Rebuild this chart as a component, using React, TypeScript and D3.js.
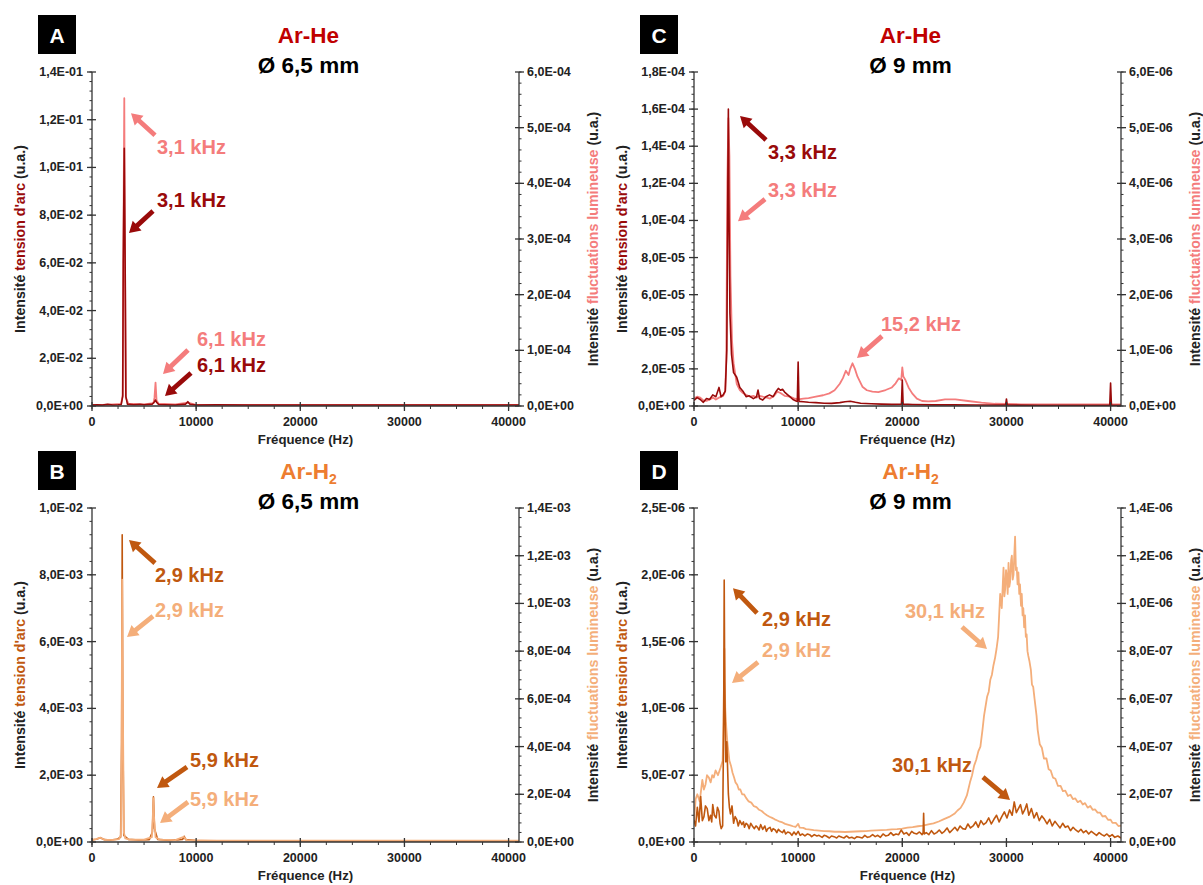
import React from 'react';
import * as d3 from 'd3';

type Pt = [number, number];

// ---------- DATA ----------
const FREQ_MAX = 41000;
const FREQ_TICKS = [0, 10000, 20000, 30000, 40000];

// Panel A : Ar-He, 6,5 mm
const A_ARC: Pt[] = [[0,0.0004],[500,0.0005],[1000,0.0004],[1500,0.0007],[2000,0.0004],[2500,0.0005],[2800,0.0006],[2950,0.004],[3000,0.06],[3100,0.108],[3200,0.05],[3250,0.004],[3400,0.0008],[4000,0.0005],[4600,0.0007],[5000,0.0005],[5800,0.0008],[6000,0.0018],[6100,0.0025],[6200,0.0016],[6400,0.0006],[7000,0.0005],[8000,0.0004],[9000,0.0008],[9200,0.0018],[9400,0.0007],[10000,0.0004],[12000,0.0005],[15000,0.0004],[20000,0.0004],[25000,0.0004],[30000,0.0004],[35000,0.0004],[41000,0.0004]];
const A_LUM: Pt[] = [[0,2e-6],[1000,2e-6],[2000,3e-6],[2800,4e-6],[2950,2e-5],[3050,4e-4],[3100,5.53e-4],[3150,3e-4],[3250,1.5e-5],[3500,4e-6],[5000,3e-6],[5900,5e-6],[6000,1.5e-5],[6100,4.2e-5],[6200,1e-5],[6400,4e-6],[8000,3e-6],[9200,6e-6],[10000,2e-6],[20000,2e-6],[30000,2e-6],[41000,2e-6]];

// Panel B : Ar-H2, 6,5 mm
const B_ARC: Pt[] = [[0,6e-5],[400,8e-5],[800,1.3e-4],[1200,7e-5],[1800,6e-5],[2400,8e-5],[2750,1.5e-4],[2850,3e-3],[2900,9.2e-3],[2950,4e-3],[3050,2e-4],[3500,8e-5],[4500,6e-5],[5500,7e-5],[5800,3e-4],[5900,1.35e-3],[6000,4e-4],[6300,8e-5],[7500,5e-5],[8700,8e-5],[8850,1.7e-4],[9000,7e-5],[10000,4e-5],[15000,3e-5],[20000,3e-5],[30000,3e-5],[41000,3e-5]];
const B_LUM: Pt[] = [[0,1e-5],[400,1.2e-5],[800,1.8e-5],[1200,1e-5],[2000,9e-6],[2600,1.2e-5],[2780,3e-5],[2840,4e-4],[2900,1.1e-3],[2960,6e-4],[3060,4e-5],[3200,1.5e-5],[3600,1e-5],[5000,1e-5],[5750,2e-5],[5850,1.2e-4],[5900,1.84e-4],[5950,1.1e-4],[6100,2e-5],[6500,1e-5],[8000,8e-6],[8800,2.2e-5],[9100,8e-6],[12000,6e-6],[20000,6e-6],[30000,6e-6],[41000,6e-6]];

// Panel C : Ar-He, 9 mm
const C_ARC: Pt[] = [[0,3e-6],[300,4.5e-6],[600,3.5e-6],[900,2e-6],[1200,4e-6],[1500,3.5e-6],[1800,6e-6],[2100,5e-6],[2400,1e-5],[2600,5e-6],[2800,6e-6],[3000,8e-6],[3150,3e-5],[3250,1.2e-4],[3300,1.6e-4],[3350,1.1e-4],[3450,5e-5],[3600,2.8e-5],[3800,1.8e-5],[4100,1.55e-5],[4400,1e-5],[4700,8e-6],[5000,5e-6],[5300,5.5e-6],[5700,4e-6],[6000,5e-6],[6150,8.6e-6],[6300,4e-6],[6600,3.2e-6],[6900,5e-6],[7250,6e-6],[7600,5e-6],[7900,8e-6],[8100,9.5e-6],[8300,8.5e-6],[8500,9e-6],[8700,7.5e-6],[9000,6e-6],[9200,5e-6],[9500,3.5e-6],[9800,2.7e-6],[9920,2.5e-6],[10000,2.37e-5],[10080,2.5e-6],[10500,2.3e-6],[11000,2e-6],[11700,1.8e-6],[12500,1.5e-6],[13200,1.4e-6],[14000,1.8e-6],[14500,2.3e-6],[15000,2.6e-6],[15500,2e-6],[16000,1.5e-6],[17000,1.2e-6],[18000,1e-6],[19000,0.9e-6],[19920,1e-6],[20000,1.4e-5],[20080,1e-6],[21000,0.8e-6],[23000,0.6e-6],[25000,0.6e-6],[27000,0.5e-6],[29920,0.5e-6],[30000,3.8e-6],[30080,0.5e-6],[33000,0.4e-6],[36000,0.4e-6],[39920,0.4e-6],[40000,1.24e-5],[40080,0.4e-6],[41000,0.4e-6]];
const C_LUM: Pt[] = [[0,1.37e-7],[300,1.67e-7],[600,1.5e-7],[900,1e-7],[1200,9.3e-8],[1500,1.17e-7],[1850,1.5e-7],[2100,1.17e-7],[2400,1.5e-7],[2800,1.83e-7],[3000,2.67e-7],[3100,8.3e-7],[3200,4.0e-6],[3300,5.17e-6],[3400,4.5e-6],[3500,2.33e-6],[3650,1.17e-6],[3800,7.7e-7],[4100,4e-7],[4400,2.87e-7],[4700,2.33e-7],[5000,2e-7],[5400,1.67e-7],[5700,1.83e-7],[6000,1.5e-7],[6300,1.83e-7],[6600,1.67e-7],[7000,1.5e-7],[7300,1.33e-7],[7700,1.83e-7],[8000,2.57e-7],[8300,2.33e-7],[8700,1.83e-7],[9200,1.67e-7],[9600,1.37e-7],[10000,1.17e-7],[10500,1.33e-7],[11000,1.43e-7],[11700,1.67e-7],[12400,1.93e-7],[13000,2.27e-7],[13500,2.83e-7],[14000,4e-7],[14300,5e-7],[14580,6.33e-7],[14840,5.57e-7],[15000,6.67e-7],[15220,7.67e-7],[15450,6.67e-7],[15700,5.27e-7],[16170,3.47e-7],[16600,2.83e-7],[17130,2.57e-7],[17700,2.5e-7],[18400,2.87e-7],[19000,3.33e-7],[19360,4.07e-7],[19670,4.97e-7],[19900,4.67e-7],[20000,6.93e-7],[20100,5.33e-7],[20300,4.67e-7],[20600,3.33e-7],[20950,2.27e-7],[21400,1.33e-7],[21900,9e-8],[22500,8.3e-8],[23200,9e-8],[24100,1.2e-7],[25100,1.2e-7],[26300,9e-8],[27600,6e-8],[28900,4e-8],[31400,3e-8],[35000,3e-8],[41000,3e-8]];

// Panel D : Ar-H2, 9 mm
const D_ARC: Pt[] = [[0,16.5e-8],[150,12e-8],[320,26e-8],[480,15e-8],[640,34e-8],[800,16e-8],[955,19e-8],[1100,27e-8],[1270,25e-8],[1430,16e-8],[1590,20e-8],[1700,15e-8],[1800,28e-8],[1950,20e-8],[2130,18e-8],[2250,26e-8],[2390,23e-8],[2500,14e-8],[2610,10e-8],[2750,12e-8],[2850,90e-8],[2900,196e-8],[2950,120e-8],[3050,60e-8],[3150,75e-8],[3300,36e-8],[3400,26e-8],
  [3500,21e-8],[3650,27e-8],[3800,14e-8],[3950,19e-8],[4100,17e-8],[4250,12e-8],[4400,16e-8],[4600,13e-8],[4750,15e-8],[4850,11e-8],[5000,14e-8],[5150,13e-8],[5300,10e-8],[5450,14e-8],[5600,12e-8],[5800,10e-8],[5950,12e-8],[6100,11e-8],[6250,9e-8],[6400,13e-8],[6600,9.5e-8],[6800,12e-8],[6950,8e-8],[7100,10e-8],[7300,11e-8],[7450,8e-8],[7600,10e-8],[7800,9e-8],[7950,7e-8],[8100,9.5e-8],[8300,8e-8],[8500,7e-8],[8650,9e-8],[8800,6e-8],[9000,7.5e-8],[9200,7e-8],[9400,5e-8],[9600,7.5e-8],[9800,5.5e-8],[10000,8e-8],[10200,5e-8],[10400,6e-8],[10650,4.5e-8],[10900,6e-8],[11100,5.5e-8],[11300,4e-8],[11550,5.5e-8],[11800,4.5e-8],[12000,5e-8],[12300,3.5e-8],[12500,5e-8],[12700,4.5e-8],[13000,3e-8],[13200,4.5e-8],[13450,4e-8],[13700,3e-8],[13900,4.5e-8],[14200,3.5e-8],[14400,3e-8],[14650,4.5e-8],[14900,3e-8],[15150,3.5e-8],[15400,2.5e-8],[15650,4e-8],[15900,3.5e-8],[16150,3e-8],[16400,5e-8],[16650,3.5e-8],[16900,4e-8],[17150,5.5e-8],[17400,4e-8],[17650,5e-8],[17900,3.5e-8],[18150,6e-8],[18400,4.5e-8],[18650,5e-8],[18900,7e-8],[19150,5e-8],[19400,6e-8],[19650,5.5e-8],[19900,9e-8],[20150,6e-8],[20400,7e-8],[20650,5e-8],[20900,8e-8],[21150,6.5e-8],[21400,6e-8],[21650,7.5e-8],[21900,5.5e-8],[22000,7e-8],[22050,21.5e-8],[22100,6e-8],[22300,7e-8],[22550,5.5e-8],[22800,8.5e-8],[23050,6e-8],[23300,7e-8],[23550,9e-8],[23800,6.5e-8],[24050,8e-8],[24300,10.5e-8],[24550,7e-8],[24800,9e-8],[25050,11e-8],[25300,8.5e-8],[25550,12e-8],[25800,10e-8],[26050,9.5e-8],[26300,13.5e-8],[26550,10.5e-8],[26800,12e-8],[27050,15e-8],[27300,11e-8],[27550,16e-8],[27800,13e-8],[28050,14.5e-8],[28300,18e-8],[28550,13.5e-8],[28800,17e-8],[29050,20e-8],[29300,15e-8],[29550,19e-8],[29800,22.5e-8],[30050,18e-8],[30300,24e-8],[30550,20e-8],[30750,30e-8],[30950,22e-8],[31150,25e-8],[31350,28e-8],[31550,21e-8],[31750,24e-8],[31950,28.5e-8],[32150,20e-8],[32400,25e-8],[32650,18e-8],[32900,22e-8],[33150,16e-8],[33400,19.5e-8],[33650,17e-8],[33900,13.5e-8],[34150,17e-8],[34400,12e-8],[34650,15.5e-8],[34900,13e-8],[35150,10.5e-8],[35400,14e-8],[35650,11e-8],[35900,12e-8],[36150,8.5e-8],[36400,11e-8],[36650,9e-8],[36900,7.5e-8],[37150,9.5e-8],[37400,7e-8],[37650,8.5e-8],[37900,6e-8],[38150,8e-8],[38400,6.5e-8],[38650,5e-8],[38900,7e-8],[39150,5.5e-8],[39400,4.5e-8],[39650,6e-8],[39900,4e-8],[40150,5.5e-8],[40400,3.5e-8],[40700,4.5e-8],[41000,3e-8]];
const D_LUM: Pt[] = [[0,9e-8],[160,18e-8],[320,20e-8],[550,17e-8],[800,26e-8],[950,22e-8],[1100,24e-8],[1250,28e-8],[1430,27e-8],[1600,25e-8],[1750,28e-8],[1900,27e-8],[2070,30e-8],[2300,28e-8],[2540,31e-8],[2750,34e-8],[2850,56e-8],[2920,81e-8],[3000,56e-8],[3100,48e-8],[3200,42e-8],[3300,38e-8],[3400,34e-8],[3550,32e-8],[3700,29e-8],[3850,27e-8],[3980,25e-8],[4150,24e-8],[4300,22e-8],[4450,22e-8],[4620,20e-8],[4800,20e-8],[5000,18.5e-8],[5250,17e-8],[5500,16.5e-8],[5750,15e-8],[6000,14.6e-8],[6250,13.5e-8],[6500,13e-8],[6750,12e-8],[7000,11.2e-8],[7250,10.6e-8],[7500,10.1e-8],[7750,9.5e-8],[8000,9e-8],[8250,8.5e-8],[8500,8.2e-8],[8750,7.6e-8],[9000,7.3e-8],[9250,7e-8],[9500,6.6e-8],[9750,6.3e-8],[10000,7.6e-8],[10150,6e-8],[10500,5.9e-8],[10750,5.4e-8],[11000,5.3e-8],[11500,5e-8],[12000,4.8e-8],[12500,4.6e-8],[13000,4.5e-8],[13500,4.3e-8],[14000,4.3e-8],[14500,4.2e-8],[15000,4.3e-8],[15500,4.4e-8],[16000,4.5e-8],[16500,4.6e-8],[17000,4.8e-8],[17500,4.9e-8],[18000,5e-8],[18500,5.1e-8],[19000,5.3e-8],[19500,5.4e-8],[20000,5.6e-8],[20500,6e-8],[21000,6.2e-8],[21500,6.6e-8],[22000,6.9e-8],[22500,7.4e-8],[23000,7.8e-8],[23500,8.6e-8],[24000,9.6e-8],[24500,10.5e-8],[25000,11.8e-8],[25300,13.2e-8],[25600,14.3e-8],[25900,16.5e-8],[26200,19.5e-8],[26500,25e-8],[26700,28e-8],[26900,32e-8],[27100,34.5e-8],[27300,38e-8],[27500,40e-8],[27700,47e-8],[27850,53e-8],[28000,57e-8],[28150,61e-8],[28300,63e-8],[28450,68e-8],[28600,70e-8],[28750,74e-8],[28900,77e-8],[29050,81e-8],[29200,86e-8],[29300,95e-8],[29400,104e-8],[29550,98e-8],[29650,108e-8],[29720,115e-8],[29800,103e-8],[29880,106e-8],[29960,114e-8],[30040,111e-8],[30120,104e-8],[30200,117e-8],[30280,107e-8],[30350,109e-8],[30450,118e-8],[30520,120e-8],[30600,110e-8],[30680,112e-8],[30760,121e-8],[30830,128e-8],[30910,114e-8],[30990,115e-8],[31070,108e-8],[31150,113e-8],[31230,104e-8],[31300,108e-8],[31400,99e-8],[31470,104e-8],[31550,95e-8],[31620,98e-8],[31700,90e-8],[31780,95e-8],[31860,86e-8],[31940,87e-8],[32020,80e-8],[32100,78e-8],[32200,76e-8],[32350,72e-8],[32450,66e-8],[32570,65e-8],[32700,60e-8],[32890,53e-8],[33000,47e-8],[33200,41e-8],[33400,39.5e-8],[33600,35e-8],[33840,35e-8],[34050,30.5e-8],[34250,30e-8],[34470,27e-8],[34700,26.5e-8],[34950,23.5e-8],[35200,23.5e-8],[35420,21.3e-8],[35650,21.5e-8],[35900,19.3e-8],[36150,19.8e-8],[36380,18e-8],[36600,18.3e-8],[36850,16.7e-8],[37100,17.3e-8],[37330,15.7e-8],[37550,16.3e-8],[37800,14.4e-8],[38050,15.1e-8],[38280,13.5e-8],[38500,13.7e-8],[38750,12.3e-8],[39000,12.3e-8],[39230,10.7e-8],[39500,10.9e-8],[39750,9.3e-8],[40000,9.4e-8],[40180,8e-8],[40500,8e-8],[40750,6.7e-8],[41000,6.9e-8]];

// ---------- STYLE / LAYOUT ----------
const HE = { title: '#C00000', dark: '#990A0A', light: '#F47C7C' };
const H2 = { title: '#ED7D31', dark: '#C0580F', light: '#F4AE7A' };
const FONT = '"Liberation Sans", Arial, sans-serif';
const AXIS = '#333333';
const PLOT = { left: 92, right: 519, top: 72, bottom: 406 };

interface Ann { text: string; dark: boolean; hz: number; v: number; axis: 'L' | 'R'; tail: [number, number]; label: [number, number]; }
interface Panel {
  letter: string; ox: number; oy: number; gas: 'He' | 'H2'; diam: string;
  leftMax: number; leftStep: number; rightMax: number; rightStep: number;
  arc: Pt[]; lum: Pt[]; lumOnTop: boolean; anns: Ann[];
}

const PANELS: Panel[] = [
  { letter: 'A', ox: 0, oy: 0, gas: 'He', diam: 'Ø 6,5 mm', leftMax: 0.14, leftStep: 0.02, rightMax: 6e-4, rightStep: 1e-4, arc: A_ARC, lum: A_LUM, lumOnTop: false,
    anns: [
      { text: '3,1 kHz', dark: false, hz: 3745, v: 5.26e-4, axis: 'R', tail: [24, 22], label: [26, 41] },
      { text: '3,1 kHz', dark: true, hz: 3553, v: 0.0725, axis: 'L', tail: [24, -22], label: [28, -26] },
      { text: '6,1 kHz', dark: false, hz: 6817, v: 5.75e-5, axis: 'R', tail: [25, -24], label: [34, -28] },
      { text: '6,1 kHz', dark: true, hz: 7009, v: 0.0042, axis: 'L', tail: [26, -23], label: [32, -24] },
    ] },
  { letter: 'C', ox: 602, oy: 0, gas: 'He', diam: 'Ø 9 mm', leftMax: 1.8e-4, leftStep: 2e-5, rightMax: 6e-6, rightStep: 1e-6, arc: C_ARC, lum: C_LUM, lumOnTop: false,
    anns: [
      { text: '3,3 kHz', dark: true, hz: 4417, v: 1.563e-4, axis: 'L', tail: [26, 24], label: [28, 43] },
      { text: '3,3 kHz', dark: false, hz: 4225, v: 3.32e-6, axis: 'R', tail: [27, -22], label: [30, -24] },
      { text: '15,2 kHz', dark: false, hz: 15650, v: 8.6e-7, axis: 'R', tail: [25, -22], label: [24, -27] },
    ] },
  { letter: 'B', ox: 0, oy: 436, gas: 'H2', diam: 'Ø 6,5 mm', leftMax: 1e-2, leftStep: 2e-3, rightMax: 1.4e-3, rightStep: 2e-4, arc: B_ARC, lum: B_LUM, lumOnTop: true,
    anns: [
      { text: '2,9 kHz', dark: true, hz: 3553, v: 9.04e-3, axis: 'L', tail: [26, 23], label: [26, 42] },
      { text: '2,9 kHz', dark: false, hz: 3361, v: 8.59e-4, axis: 'R', tail: [26, -21], label: [28, -20] },
      { text: '5,9 kHz', dark: true, hz: 6241, v: 1.62e-3, axis: 'L', tail: [30, -21], label: [33, -21] },
      { text: '5,9 kHz', dark: false, hz: 6529, v: 7.96e-5, axis: 'R', tail: [28, -21], label: [30, -17] },
    ] },
  { letter: 'D', ox: 602, oy: 436, gas: 'H2', diam: 'Ø 9 mm', leftMax: 2.5e-6, leftStep: 5e-7, rightMax: 1.4e-6, rightStep: 2e-7, arc: D_ARC, lum: D_LUM, lumOnTop: false,
    anns: [
      { text: '2,9 kHz', dark: true, hz: 3745, v: 1.9e-6, axis: 'L', tail: [24, 25], label: [29, 38] },
      { text: '2,9 kHz', dark: false, hz: 3649, v: 6.66e-7, axis: 'R', tail: [26, -21], label: [30, -26] },
      { text: '30,1 kHz', dark: false, hz: 28133, v: 8.09e-7, axis: 'R', tail: [-25, -22], label: [-82, -31] },
      { text: '30,1 kHz', dark: true, hz: 30341, v: 3.14e-7, axis: 'L', tail: [-27, -23], label: [-118, -28] },
    ] },
];

function fmtSci(v: number): string {
  const s = v.toExponential(1);
  const [m, e] = s.split('e');
  const ei = parseInt(e, 10);
  return m.replace('.', ',') + 'E' + (ei < 0 ? '-' : '+') + String(Math.abs(ei)).padStart(2, '0');
}

function arrowPath(x1: number, y1: number, x2: number, y2: number): string {
  const dx = x2 - x1, dy = y2 - y1;
  const len = Math.hypot(dx, dy);
  const ux = dx / len, uy = dy / len;
  const nx = -uy, ny = ux;
  const w = 2.4, hw = 6.5, hl = 11;
  const bx = x2 - ux * hl, by = y2 - uy * hl;
  const p = [
    [x1 + nx * w, y1 + ny * w], [bx + nx * w, by + ny * w], [bx + nx * hw, by + ny * hw], [x2, y2],
    [bx - nx * hw, by - ny * hw], [bx - nx * w, by - ny * w], [x1 - nx * w, y1 - ny * w],
  ];
  return 'M' + p.map(q => q[0].toFixed(1) + ',' + q[1].toFixed(1)).join('L') + 'Z';
}

function ticksOf(max: number, step: number): number[] {
  const n = Math.round(max / step);
  return d3.range(0, n + 1).map(i => i * step);
}

function PanelView({ p }: { p: Panel }) {
  const col = p.gas === 'He' ? HE : H2;
  const L = PLOT.left + p.ox, R = PLOT.right + p.ox, T = PLOT.top + p.oy, B = PLOT.bottom + p.oy;
  const x = d3.scaleLinear().domain([0, FREQ_MAX]).range([L, R]);
  const yL = d3.scaleLinear().domain([0, p.leftMax]).range([B, T]);
  const yR = d3.scaleLinear().domain([0, p.rightMax]).range([B, T]);
  const lineL = d3.line<Pt>().x(d => x(d[0])).y(d => yL(d[1]));
  const lineR = d3.line<Pt>().x(d => x(d[0])).y(d => yR(d[1]));
  const leftTicks = ticksOf(p.leftMax, p.leftStep);
  const rightTicks = ticksOf(p.rightMax, p.rightStep);
  const leftMinor = ticksOf(p.leftMax, p.leftStep / 5);
  const rightMinor = ticksOf(p.rightMax, p.rightStep / 5);
  const xMinor = d3.range(0, FREQ_MAX + 1, 2500);
  const clipId = 'clip' + p.letter;
  const cx = (L + R) / 2 - 3;
  const cy = (T + B) / 2;

  const arcPath = <path d={lineL(p.arc) || ''} fill="none" stroke={col.dark} strokeWidth={1.6} strokeLinejoin="round" />;
  const lumPath = <path d={lineR(p.lum) || ''} fill="none" stroke={col.light} strokeWidth={1.8} strokeLinejoin="round" />;

  return (
    <g fontFamily={FONT} fontWeight="bold">
      <rect x={38 + p.ox} y={15 + p.oy} width={38} height={39} fill="#000" />
      <text x={57 + p.ox} y={43 + p.oy} textAnchor="middle" fontSize={21} fill="#fff">{p.letter}</text>
      <text x={cx + 6} y={43 + p.oy} textAnchor="middle" fontSize={22.5} fill={col.title}>
        {p.gas === 'He' ? 'Ar-He' : <>Ar-H<tspan fontSize={14} dy={5}>2</tspan></>}
      </text>
      <text x={cx + 6} y={73 + p.oy} textAnchor="middle" fontSize={22.5} fill="#000">{p.diam}</text>

      <defs>
        <clipPath id={clipId}><rect x={L} y={T - 2} width={R - L} height={B - T + 3} /></clipPath>
      </defs>
      <g clipPath={`url(#${clipId})`}>
        {p.lumOnTop ? <>{arcPath}{lumPath}</> : <>{lumPath}{arcPath}</>}
      </g>

      <g stroke={AXIS} strokeWidth={1.3} fill="none">
        <line x1={L} y1={T} x2={L} y2={B} />
        <line x1={R} y1={T} x2={R} y2={B} />
        <line x1={L} y1={B} x2={R} y2={B} />
        {leftMinor.map((v, i) => <line key={'lm' + i} x1={L - 2.5} x2={L} y1={yL(v)} y2={yL(v)} strokeWidth={1} />)}
        {leftTicks.map((v, i) => <line key={'lt' + i} x1={L - 5} x2={L + 4} y1={yL(v)} y2={yL(v)} />)}
        {rightMinor.map((v, i) => <line key={'rm' + i} x1={R} x2={R + 2.5} y1={yR(v)} y2={yR(v)} strokeWidth={1} />)}
        {rightTicks.map((v, i) => <line key={'rt' + i} x1={R - 4} x2={R + 5} y1={yR(v)} y2={yR(v)} />)}
        {xMinor.map((v, i) => <line key={'xm' + i} x1={x(v)} x2={x(v)} y1={B} y2={B + 3} strokeWidth={1} />)}
        {FREQ_TICKS.map((v, i) => <line key={'xt' + i} x1={x(v)} x2={x(v)} y1={B - 4} y2={B + 5} />)}
      </g>
      <g fontSize={12.5} fill="#222">
        {leftTicks.map((v, i) => <text key={'ll' + i} x={L - 9} y={yL(v) + 4} textAnchor="end">{fmtSci(v)}</text>)}
        {rightTicks.map((v, i) => <text key={'rl' + i} x={R + 8} y={yR(v) + 4} textAnchor="start">{fmtSci(v)}</text>)}
        {FREQ_TICKS.map((v, i) => <text key={'xl' + i} x={x(v)} y={B + 20} textAnchor="middle">{v}</text>)}
      </g>
      <text x={(L + R) / 2} y={B + 38} textAnchor="middle" fontSize={13.2} fill="#222">Fréquence (Hz)</text>
      <text transform={`translate(${L - 67},${cy}) rotate(-90)`} textAnchor="middle" fontSize={14.2} fill="#222">
        Intensité <tspan fill={col.dark}>tension d'arc</tspan> (u.a.)
      </text>
      <text transform={`translate(${R + 79},${cy}) rotate(-90)`} textAnchor="middle" fontSize={14.2} fill="#222">
        Intensité <tspan fill={col.light}>fluctuations lumineuse</tspan> (u.a.)
      </text>

      {p.anns.map((a, i) => {
        const tx = x(a.hz);
        const ty = a.axis === 'L' ? yL(a.v) : yR(a.v);
        const c = a.dark ? col.dark : col.light;
        return (
          <g key={'an' + i}>
            <path d={arrowPath(tx + a.tail[0], ty + a.tail[1], tx, ty)} fill={c} />
            <text x={tx + a.label[0]} y={ty + a.label[1]} fontSize={20} fill={c}>{a.text}</text>
          </g>
        );
      })}
    </g>
  );
}

export default function App() {
  return (
    <svg width={1203} height={885} viewBox="0 0 1203 885" style={{ display: 'block', position: 'absolute', left: 0, top: 0, background: '#fff' }}>
      <rect x={0} y={0} width={1203} height={885} fill="#fff" />
      {PANELS.map(p => <PanelView key={p.letter} p={p} />)}
    </svg>
  );
}
